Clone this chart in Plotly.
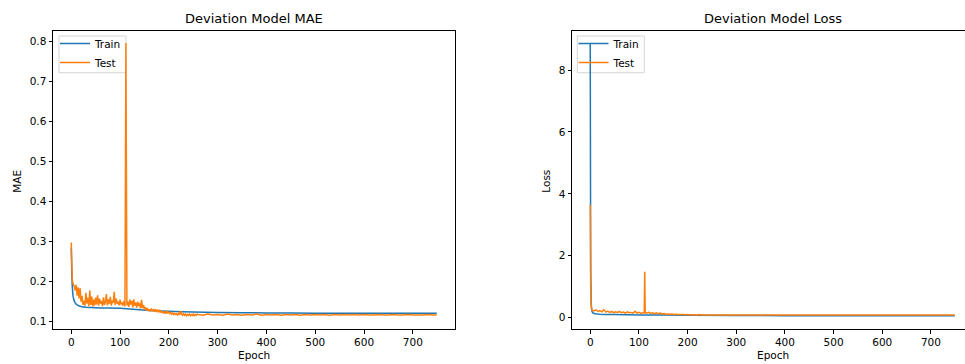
import plotly.graph_objects as go

# ---------------- data ----------------
train_mae_epochs = [0, 1, 2, 3, 4, 5, 6, 8, 10, 12, 15, 20, 25, 30, 40, 50, 60, 80, 100, 120,
                    140, 160, 180, 200, 225, 250, 300, 350, 400, 450, 500, 550, 600, 650, 700, 749]
train_mae = [0.285, 0.225, 0.190, 0.172, 0.162, 0.156, 0.152, 0.147, 0.144, 0.142,
             0.140, 0.138, 0.137, 0.136, 0.1355, 0.135, 0.1345, 0.134, 0.1335, 0.132,
             0.130, 0.128, 0.127, 0.126, 0.125, 0.124, 0.123, 0.1225, 0.122, 0.1215,
             0.121, 0.121, 0.121, 0.121, 0.121, 0.121]

test_mae_epochs = list(range(0, 260, 2)) + list(range(260, 750, 10)) + [749]
test_mae = [
    0.298, 0.205, 0.193, 0.190, 0.178, 0.192, 0.165, 0.186, 0.158, 0.184,
    0.150, 0.165, 0.142, 0.152, 0.140, 0.172, 0.145, 0.160, 0.139, 0.178,
    0.142, 0.163, 0.138, 0.155, 0.141, 0.160, 0.143, 0.166, 0.140, 0.158,
    0.145, 0.152, 0.139, 0.161, 0.142, 0.150, 0.169, 0.141, 0.156, 0.145,
    0.162, 0.140, 0.153, 0.147, 0.175, 0.142, 0.158, 0.145, 0.150, 0.141,
    0.155, 0.143, 0.148, 0.140, 0.152, 0.138, 0.797, 0.141, 0.150, 0.137,
    0.155, 0.143, 0.152, 0.136, 0.156, 0.140, 0.148, 0.135, 0.150, 0.139,
    0.146, 0.133, 0.155, 0.134, 0.142, 0.131, 0.136, 0.128, 0.134, 0.127,
    0.131, 0.126, 0.133, 0.128, 0.130, 0.125, 0.132, 0.126, 0.129, 0.124,
    0.130, 0.124, 0.127, 0.122, 0.126, 0.121, 0.125, 0.120, 0.127, 0.122,
    0.124, 0.120, 0.123, 0.119, 0.122, 0.118, 0.121, 0.118, 0.120, 0.117,
    0.121, 0.117, 0.127, 0.119, 0.116, 0.120, 0.116, 0.119, 0.115, 0.118,
    0.116, 0.119, 0.115, 0.118, 0.116, 0.119, 0.115, 0.118, 0.116, 0.119,
    # 260 .. 740 step 10, then 749
    0.118, 0.116, 0.119, 0.117, 0.118, 0.116, 0.119, 0.117, 0.118, 0.116,
    0.118, 0.117, 0.119, 0.116, 0.118, 0.117, 0.118, 0.116, 0.118, 0.117,
    0.118, 0.116, 0.118, 0.117, 0.118, 0.117, 0.118, 0.116, 0.118, 0.117,
    0.118, 0.117, 0.118, 0.117, 0.118, 0.117, 0.117, 0.118, 0.117, 0.117,
    0.118, 0.117, 0.117, 0.118, 0.117, 0.117, 0.117, 0.118, 0.117, 0.117,
]

train_loss_epochs = [0, 1, 2, 3, 4, 5, 7, 10, 15, 20, 30, 50, 75, 100, 150, 200, 300, 400, 500, 600, 749]
train_loss = [8.85, 1.5, 0.45, 0.25, 0.19, 0.16, 0.14, 0.125, 0.115, 0.11, 0.105,
              0.10, 0.095, 0.09, 0.085, 0.078, 0.07, 0.066, 0.063, 0.061, 0.06]

test_loss_epochs = ([0, 1, 2, 3] + list(range(4, 112, 4)) + [111, 112, 113]
                    + list(range(116, 240, 4)) + list(range(240, 750, 20)) + [749])
test_loss = [
    3.65, 0.9, 0.38, 0.28,
    0.24, 0.22, 0.25, 0.20, 0.23, 0.19, 0.26, 0.18, 0.21, 0.17,
    0.20, 0.16, 0.19, 0.17, 0.20, 0.16, 0.18, 0.15, 0.19, 0.16,
    0.17, 0.15, 0.21, 0.15, 0.17, 0.14, 0.16,
    0.16, 1.48, 0.15,
    0.15, 0.17, 0.14, 0.16, 0.13, 0.16, 0.13, 0.15, 0.12, 0.13,
    0.11, 0.12, 0.11, 0.115, 0.105, 0.11, 0.10, 0.105, 0.10, 0.10,
    0.095, 0.10, 0.092, 0.095, 0.09, 0.093, 0.09, 0.10, 0.09, 0.092, 0.089,
    0.09, 0.088, 0.09, 0.088, 0.089, 0.088, 0.089, 0.087, 0.088, 0.088,
    0.087, 0.088, 0.087, 0.088, 0.087, 0.087, 0.088, 0.087, 0.087, 0.087,
    0.088, 0.087, 0.087, 0.087, 0.087, 0.087,
    0.087,
]

assert len(test_mae_epochs) == len(test_mae)
assert len(test_loss_epochs) == len(test_loss)
assert len(train_loss_epochs) == len(train_loss)
assert len(train_mae_epochs) == len(train_mae)

x_ticks = [0, 100, 200, 300, 400, 500, 600, 700]
mae_ticks = [0.1, 0.2, 0.3, 0.4, 0.5, 0.6, 0.7, 0.8]
loss_ticks = [0, 2, 4, 6, 8]

BLUE = "#1f77b4"
ORANGE = "#ff7f0e"
FONT = "DejaVu Sans"
W, H = 965, 364

fig = go.Figure()
fig.add_trace(go.Scatter(x=train_mae_epochs, y=train_mae, mode="lines", name="Train",
                         line=dict(color=BLUE, width=1.5, simplify=False),
                         xaxis="x", yaxis="y", legend="legend"))
fig.add_trace(go.Scatter(x=test_mae_epochs, y=test_mae, mode="lines", name="Test",
                         line=dict(color=ORANGE, width=1.5, simplify=False),
                         xaxis="x", yaxis="y", legend="legend"))
fig.add_trace(go.Scatter(x=train_loss_epochs, y=train_loss, mode="lines", name="Train",
                         line=dict(color=BLUE, width=1.5, simplify=False),
                         xaxis="x2", yaxis="y2", legend="legend2"))
fig.add_trace(go.Scatter(x=test_loss_epochs, y=test_loss, mode="lines", name="Test",
                         line=dict(color=ORANGE, width=1.5, simplify=False),
                         xaxis="x2", yaxis="y2", legend="legend2"))

top_px, bot_px = 30.5, 329
ydom = [(H - bot_px) / H, (H - top_px) / H]

axis_common = dict(showline=True, linecolor="black", linewidth=1, ticks="outside",
                   ticklen=3.5, tickwidth=0.8, tickcolor="black", showgrid=False,
                   zeroline=False, tickfont=dict(family=FONT, size=10.5, color="black"))

leg_common = dict(bgcolor="rgba(255,255,255,0)", borderwidth=0,
                  font=dict(family=FONT, size=10.5, color="black"),
                  xanchor="left", yanchor="top", tracegroupgap=0, itemwidth=30)

# legend frames (drawn beneath the data, like a semi-transparent matplotlib legend box)
legend_boxes = [
    dict(type="rect", xref="paper", yref="paper", layer="below",
         x0=59 / W, x1=126 / W, y0=1 - 72.7 / H, y1=1 - 36 / H,
         line=dict(color="#d6d6d6", width=1), fillcolor="white"),
    dict(type="rect", xref="paper", yref="paper", layer="below",
         x0=577.3 / W, x1=644.3 / W, y0=1 - 72.7 / H, y1=1 - 36 / H,
         line=dict(color="#d6d6d6", width=1), fillcolor="white"),
]

fig.update_layout(
    width=W, height=H, margin=dict(l=0, r=0, t=0, b=0),
    paper_bgcolor="white", plot_bgcolor="white",
    xaxis=dict(domain=[53 / W, 455 / W], range=[-37.45, 786.45], tickvals=x_ticks,
               mirror=True, anchor="y", **axis_common),
    yaxis=dict(domain=ydom, range=[0.0818, 0.828], tickvals=mae_ticks,
               tickformat=".1f", mirror=True, anchor="x", **axis_common),
    xaxis2=dict(domain=[572 / W, 1.0], range=[-37.45, 770.0], tickvals=x_ticks,
                mirror=True, anchor="y2", **axis_common),
    yaxis2=dict(domain=ydom, range=[-0.366, 9.276], tickvals=loss_ticks,
                mirror=False, anchor="x2", **axis_common),
    legend=dict(x=55 / W, y=1 - 29 / H, **leg_common),
    legend2=dict(x=573.5 / W, y=1 - 29 / H, **leg_common),
    shapes=legend_boxes,
    annotations=[
        dict(text="Deviation Model MAE", x=254 / W, y=1 - 18 / H, xref="paper", yref="paper",
             showarrow=False, xanchor="center", yanchor="middle",
             font=dict(family=FONT, size=13, color="black")),
        dict(text="Deviation Model Loss", x=772.5 / W, y=1 - 18 / H, xref="paper", yref="paper",
             showarrow=False, xanchor="center", yanchor="middle",
             font=dict(family=FONT, size=13, color="black")),
        dict(text="MAE", x=17 / W, y=1 - 181.7 / H, xref="paper", yref="paper", textangle=-90,
             showarrow=False, xanchor="center", yanchor="middle",
             font=dict(family=FONT, size=10.5, color="black")),
        dict(text="Loss", x=546 / W, y=1 - 181.7 / H, xref="paper", yref="paper", textangle=-90,
             showarrow=False, xanchor="center", yanchor="middle",
             font=dict(family=FONT, size=10.5, color="black")),
        dict(text="Epoch", x=254 / W, y=1 - 355 / H, xref="paper", yref="paper",
             showarrow=False, xanchor="center", yanchor="middle",
             font=dict(family=FONT, size=10.5, color="black")),
        dict(text="Epoch", x=772.5 / W, y=1 - 355 / H, xref="paper", yref="paper",
             showarrow=False, xanchor="center", yanchor="middle",
             font=dict(family=FONT, size=10.5, color="black")),
    ],
)

fig.write_html("out.html", config={"displayModeBar": False},
               post_script="document.body.style.margin='0px';document.body.style.overflow='hidden';")
